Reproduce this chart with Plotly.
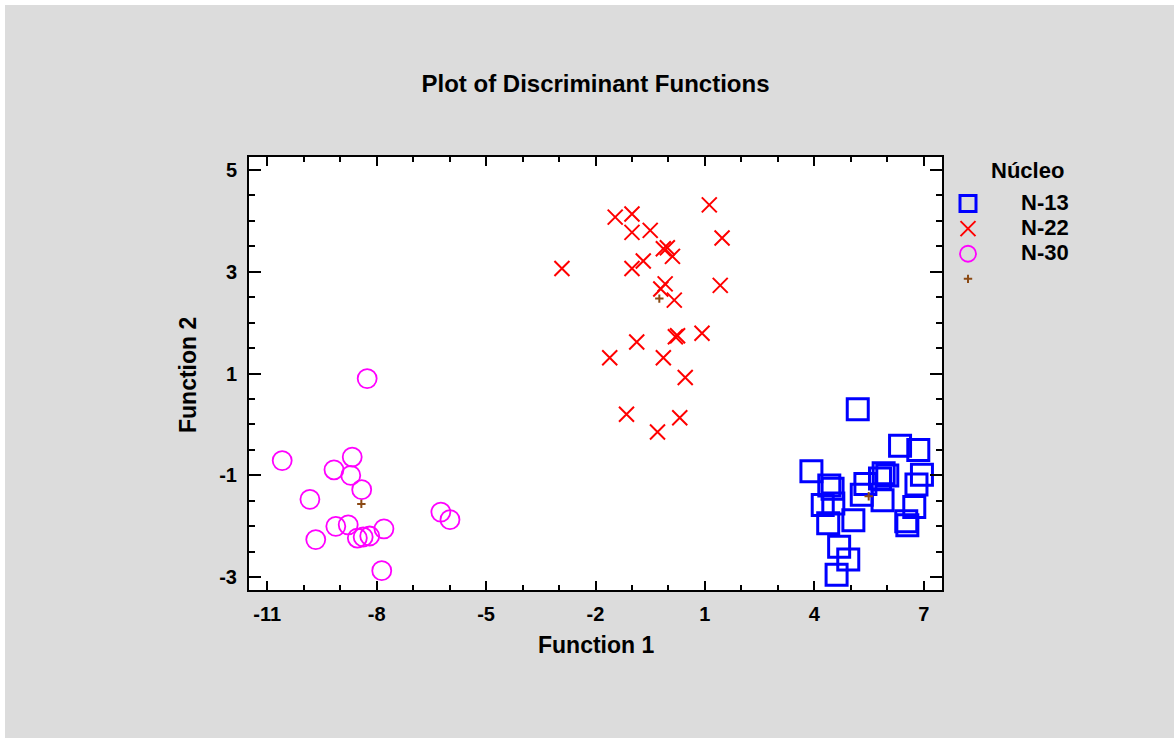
import plotly.graph_objects as go

# Discriminant scores (Function 1, Function 2) for each Núcleo group
n13_f1 = [5.19, 6.35, 6.85, 3.92, 6.95, 6.80, 5.90, 6.00, 5.80, 5.40, 4.41, 4.50,
          4.23, 4.52, 5.30, 5.87, 6.74, 6.52, 6.55, 4.38, 5.07, 4.68, 4.93, 4.61]
n13_f2 = [0.30, -0.42, -0.50, -0.92, -0.99, -1.18, -0.96, -1.00, -1.06, -1.17, -1.20, -1.26,
          -1.58, -1.55, -1.38, -1.49, -1.62, -1.90, -1.98, -1.94, -1.88, -2.40, -2.65, -2.95]

n22_f1 = [1.12, -1.46, -1.00, -1.00, -0.50, -0.14, -0.03, 0.11, 1.47, -2.92, -1.00, -0.69, -0.09,
          -0.21, 0.16, 1.42, 0.92, 0.19, 0.25, -0.87, -1.61, -0.14, 0.46, -1.15, 0.31, -0.30]
n22_f2 = [4.31, 4.07, 4.13, 3.77, 3.81, 3.45, 3.47, 3.30, 3.66, 3.06, 3.06, 3.21, 2.76,
          2.66, 2.44, 2.73, 1.79, 1.72, 1.74, 1.62, 1.31, 1.31, 0.92, 0.20, 0.13, -0.15]

n30_f1 = [-8.26, -10.59, -8.67, -9.17, -8.71, -8.41, -9.83, -9.12, -8.78, -9.67, -8.53, -8.37,
          -8.19, -7.80, -7.86, -6.24, -5.99]
n30_f2 = [0.90, -0.71, -0.64, -0.89, -1.00, -1.28, -1.47, -2.00, -1.97, -2.26, -2.23, -2.21,
          -2.19, -2.05, -2.87, -1.72, -1.87]

# Group centroids (N-13, N-22, N-30)
centroid_f1 = [5.49, -0.25, -8.42]
centroid_f2 = [-1.41, 2.47, -1.56]

group_names = ["N-13", "N-22", "N-30"]
x_ticks = [-11, -8, -5, -2, 1, 4, 7]
y_ticks = [-3, -1, 1, 3, 5]

# Page geometry (pixels)
W, H = 1174, 738
L, R, T, B = 249, 232, 157, 148
PW, PH = W - L - R, H - T - B


def px_x(px):
    return (px - L) / PW


def px_y(py):
    return (H - B - py) / PH


FONT = "Liberation Sans, Arial, sans-serif"
BG = "#dcdcdc"


def legend_label(s):
    # larger glyphs while keeping the legend row pitch of a 17px font
    return f'<span style="font-size:22px">{s}</span>'


fig = go.Figure()
fig.add_trace(go.Scatter(
    x=n13_f1, y=n13_f2, mode="markers", name=legend_label(group_names[0]),
    marker=dict(symbol="square-open", size=21, color="#0000ff", line=dict(width=3, color="#0000ff")),
))
fig.add_trace(go.Scatter(
    x=n22_f1, y=n22_f2, mode="markers", name=legend_label(group_names[1]),
    marker=dict(symbol="x-thin-open", size=15, color="#ff0000", line=dict(width=2, color="#ff0000")),
))
fig.add_trace(go.Scatter(
    x=n30_f1, y=n30_f2, mode="markers", name=legend_label(group_names[2]),
    marker=dict(symbol="circle-open", size=19, color="#ff00ff", line=dict(width=1.8, color="#ff00ff")),
))
fig.add_trace(go.Scatter(
    x=centroid_f1, y=centroid_f2, mode="markers", name=" ",
    marker=dict(symbol="cross-thin-open", size=6, color="#8b4a14", line=dict(width=2, color="#8b4a14")),
))

axis_common = dict(
    showline=True, linewidth=2, linecolor="black", mirror="allticks",
    ticks="inside", tickwidth=2, tickcolor="black",
    showgrid=False, zeroline=False,
    tickfont=dict(family=FONT, size=20, color="black", weight="bold"),
)

fig.update_xaxes(
    range=[-11.5, 7.5], tickmode="array", tickvals=x_ticks,
    ticktext=[str(v) for v in x_ticks], ticklen=9,
    minor=dict(ticks="inside", ticklen=5, tickwidth=2, tickcolor="black",
               tickmode="linear", tick0=-11, dtick=1),
    ticklabelstandoff=5,
    **axis_common,
)
fig.update_yaxes(
    range=[-3.25, 5.25], tickmode="array", tickvals=y_ticks,
    ticktext=[str(v) for v in y_ticks], ticklen=12,
    minor=dict(ticks="inside", ticklen=6, tickwidth=2, tickcolor="black",
               tickmode="linear", tick0=-3, dtick=0.5),
    ticklabelstandoff=6,
    **axis_common,
)

annotations = [
    dict(text="Function 1", x=0.5, y=px_y(645), xref="paper", yref="paper",
         xanchor="center", yanchor="middle", showarrow=False,
         font=dict(family=FONT, size=23, color="black", weight="bold")),
    dict(text="Function 2", x=px_x(188), y=px_y(375), xref="paper", yref="paper",
         xanchor="center", yanchor="middle", showarrow=False, textangle=-90,
         font=dict(family=FONT, size=23, color="black", weight="bold")),
    dict(text="Núcleo", x=px_x(1027), y=px_y(170), xref="paper", yref="paper",
         xanchor="center", yanchor="middle", showarrow=False,
         font=dict(family=FONT, size=22, color="black", weight="bold")),
]

# White strips along the left and top edges of the page
shapes = [
    dict(type="rect", xref="paper", yref="paper", layer="below",
         x0=px_x(0), x1=px_x(5), y0=px_y(H), y1=px_y(0),
         fillcolor="white", line=dict(width=0)),
    dict(type="rect", xref="paper", yref="paper", layer="below",
         x0=px_x(0), x1=px_x(W), y0=px_y(5), y1=px_y(0),
         fillcolor="white", line=dict(width=0)),
]

fig.update_layout(
    width=W, height=H,
    margin=dict(l=L, r=R, t=T, b=B, pad=0),
    paper_bgcolor=BG, plot_bgcolor="white",
    title=dict(text="Plot of Discriminant Functions", x=0.5, xref="paper",
               y=1 - 84 / H, yref="container", xanchor="center", yanchor="middle",
               font=dict(family=FONT, size=24, color="black", weight="bold")),
    showlegend=True,
    legend=dict(x=px_x(915), y=px_y(186), xanchor="left", yanchor="top",
                bgcolor="rgba(0,0,0,0)", borderwidth=0, itemwidth=96,
                tracegroupgap=0, itemclick=False,
                font=dict(family=FONT, size=17, color="black", weight="bold")),
    annotations=annotations,
    shapes=shapes,
)

fig.write_html("out.html")
